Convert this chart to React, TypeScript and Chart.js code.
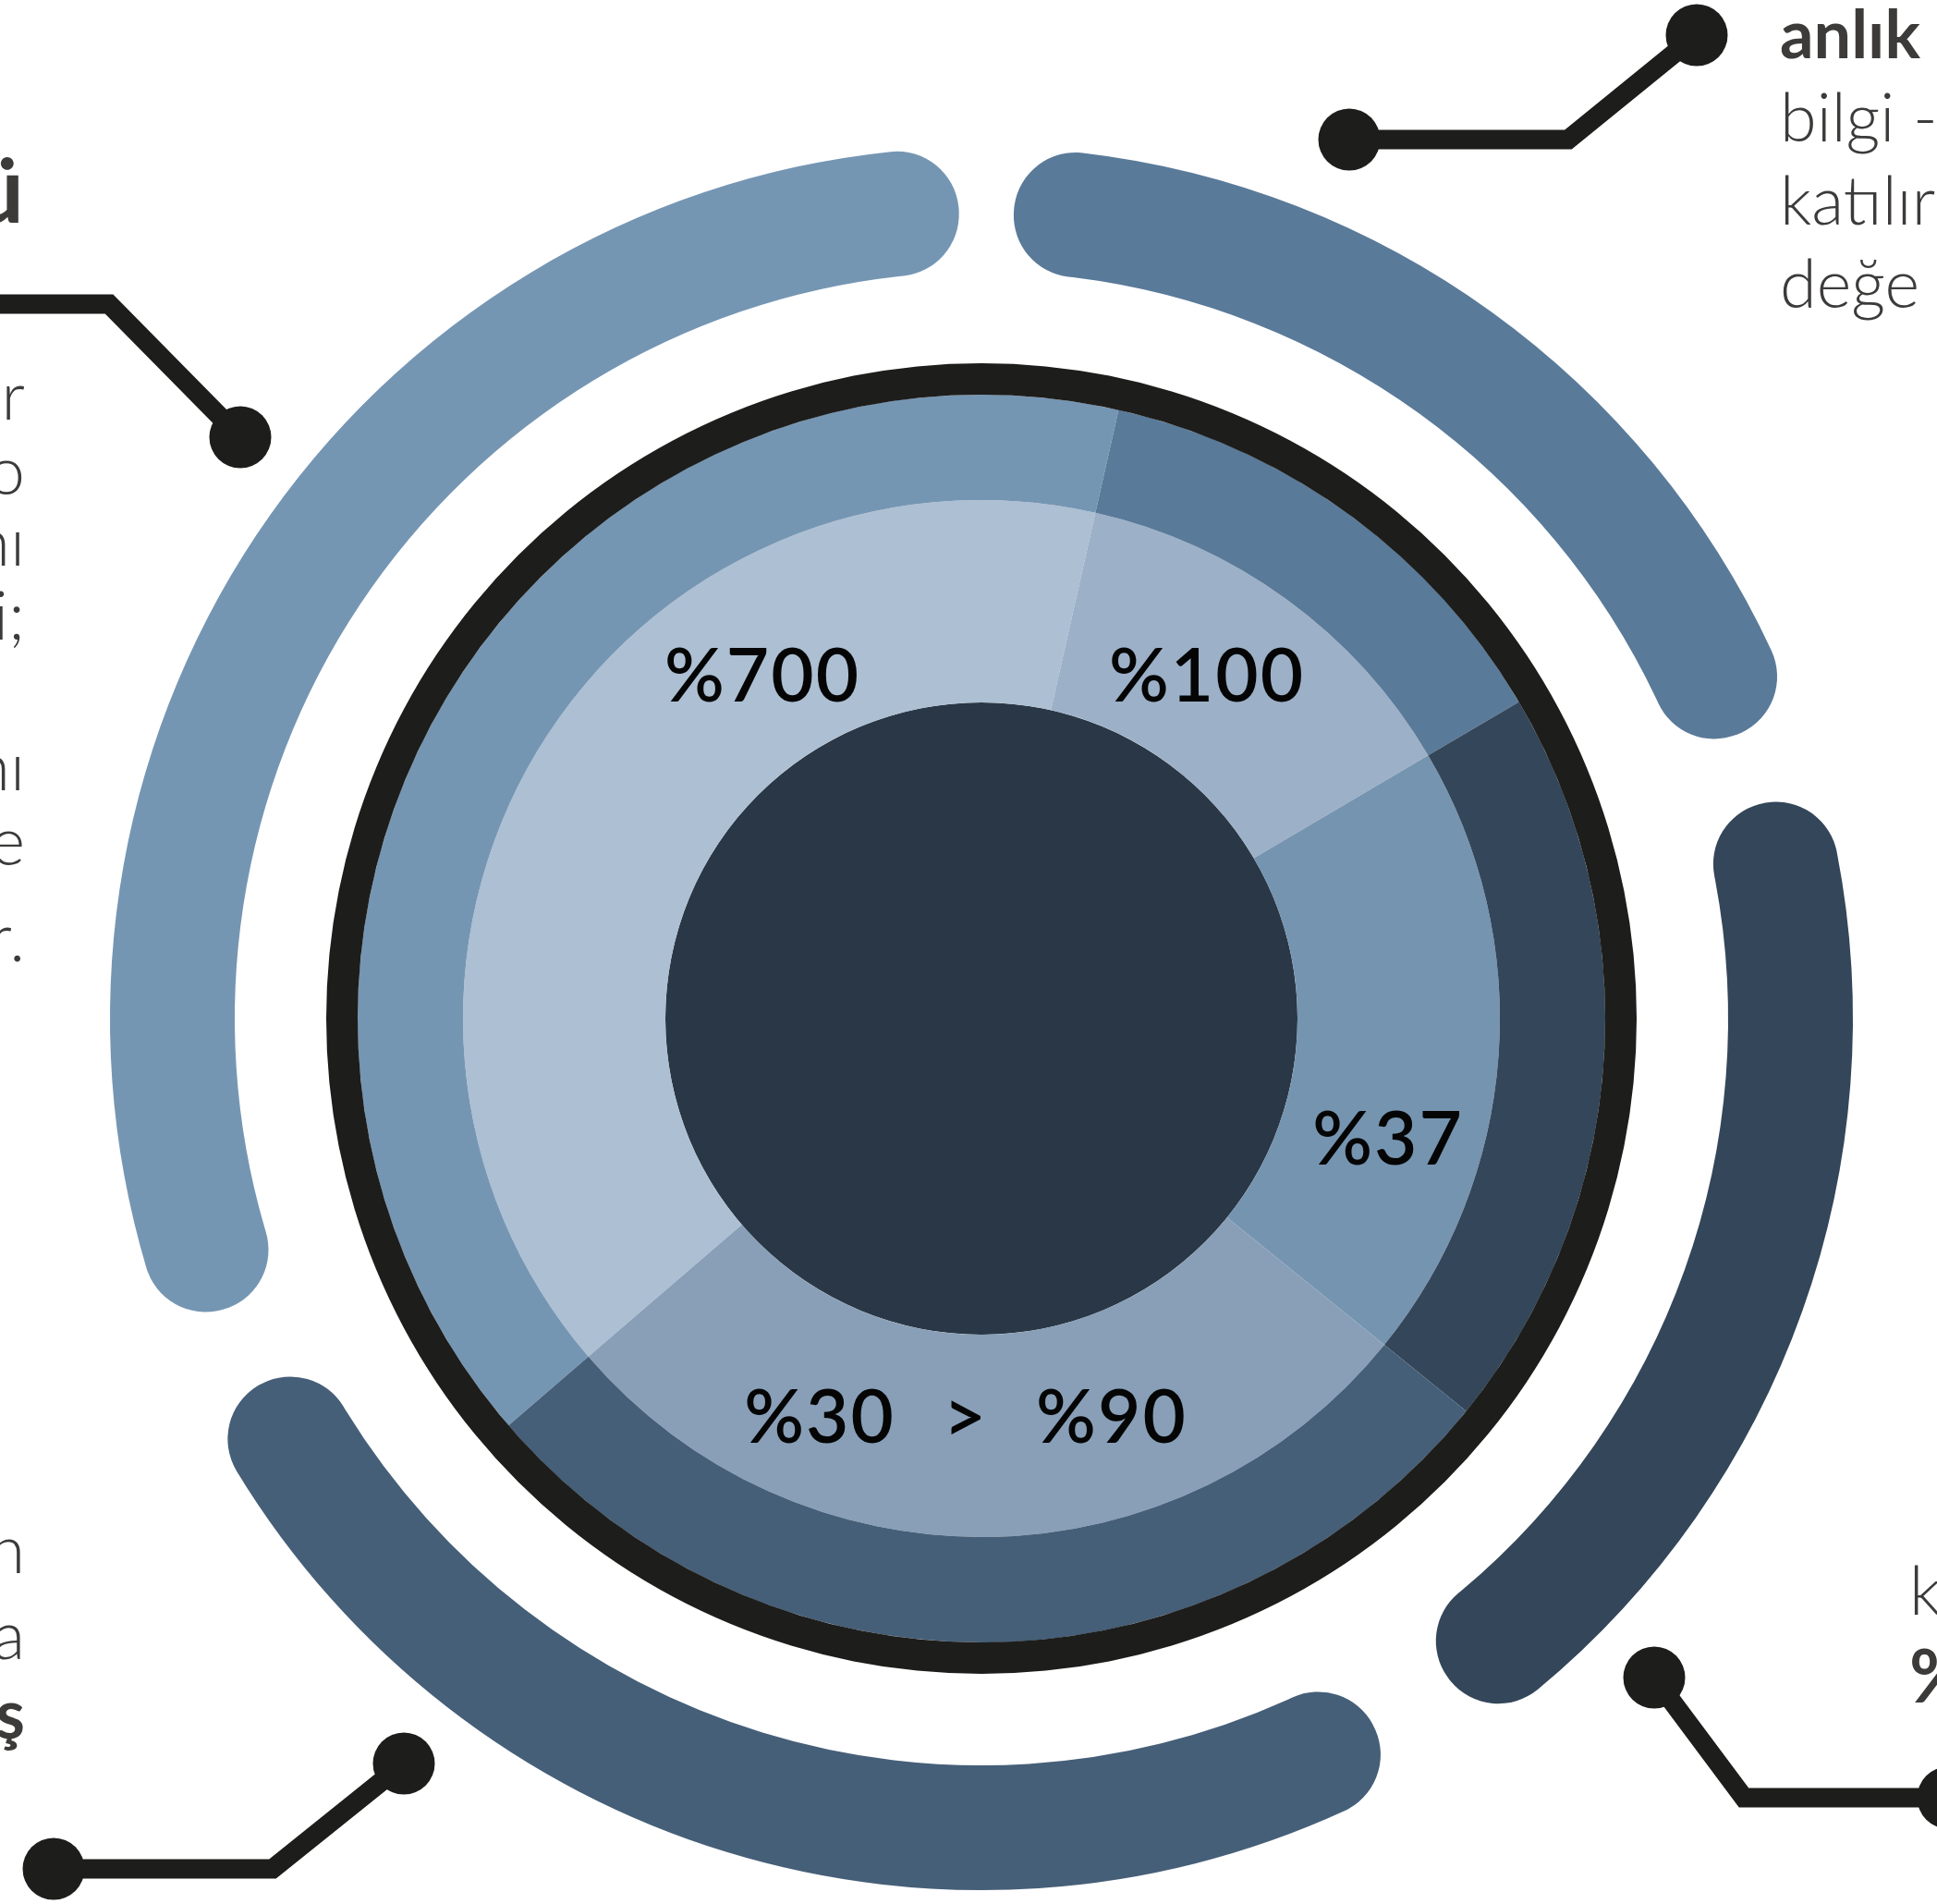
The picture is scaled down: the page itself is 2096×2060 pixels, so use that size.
import React, { useEffect, useRef } from "react";
import { Chart, registerables } from "chart.js";

Chart.register(...registerables);

// ---------- data ----------
const categories = ["%700", "%100", "%37", "%30 > %90"];
const sliceShares = [143.4, 46.8, 69.5, 100.3]; // angular share of each slice (degrees)
const sliceStart = 229.3;

const arcNames = ["sol", "boşluk", "sağ üst", "boşluk", "sağ", "boşluk", "alt", "boşluk"];
const arcSpans = [109.4, 3.9, 67.1, 5.2, 70.1, 6.3, 92.1, 5.9];
const arcStart = 249;

const topRightLines = ["anlık", "bilgi -", "katılır", "değe"];
const leftLines = ["ir", "o", "nı", "i;", "nı", "e", "r."];
const leftHeading = "ü";
const bottomLeftLines = ["n", "a", "ş"];
const bottomRightLines = ["k", "%"];

// ---------- styles ----------
const W = 2096;
const H = 2060;
const CX = 1062;
const CY = 1102;
const INK = "#1d1d1b";
const TEXT = "#3c3b3a";
const FONT = "Lato, 'Open Sans', sans-serif";

const outerRingColors = ["#7596b3", "#5a7a99", "#344659", "#465f78"];
const innerRingColors = ["#adbfd2", "#9cb0c7", "#7594b0", "#889fb7"];
const arcColors = ["#7596b3", "rgba(0,0,0,0)", "#5a7a99", "rgba(0,0,0,0)", "#344659", "rgba(0,0,0,0)", "#465f78", "rgba(0,0,0,0)"];
const coreColor = "#293746";

const calloutPaths = [
  { pts: [[1460, 151], [1697, 151], [1836, 38]], dots: [[1460, 151], [1836, 38]] },
  { pts: [[-20, 329], [118, 329], [260, 473]], dots: [[260, 473]] },
  { pts: [[58, 2022], [295, 2022], [437, 1908]], dots: [[58, 2022], [437, 1908]] },
  { pts: [[1790, 1815], [1887, 1945], [2110, 1945]], dots: [[1790, 1815], [2108, 1945]] },
];

const calloutPlugin = {
  id: "callouts",
  afterDraw(chart: any) {
    const ctx = chart.ctx;
    ctx.save();
    ctx.strokeStyle = INK;
    ctx.fillStyle = INK;
    ctx.lineWidth = 21;
    ctx.lineJoin = "miter";
    ctx.lineCap = "butt";
    for (const c of calloutPaths) {
      ctx.beginPath();
      c.pts.forEach((p, i) => (i === 0 ? ctx.moveTo(p[0], p[1]) : ctx.lineTo(p[0], p[1])));
      ctx.stroke();
      for (const d of c.dots) {
        ctx.beginPath();
        ctx.arc(d[0], d[1], 33.5, 0, Math.PI * 2);
        ctx.fill();
      }
    }
    ctx.restore();
  },
};

type TxtProps = {
  x: number;
  baseline: number;
  size: number;
  weight: number;
  text: string;
  align: "left" | "center" | "right";
  color?: string;
  wordSpacing?: number;
  letterSpacing?: number;
};

function Txt({ x, baseline, size, weight, text, align, color, wordSpacing, letterSpacing }: TxtProps) {
  const tx = align === "center" ? "translateX(-50%)" : align === "right" ? "translateX(-100%)" : "none";
  return (
    <div
      style={{
        position: "absolute",
        left: x,
        top: baseline - 0.887 * size,
        fontFamily: FONT,
        fontSize: size,
        fontWeight: weight,
        lineHeight: 1,
        color: color || TEXT,
        whiteSpace: "pre",
        transform: tx,
        wordSpacing: wordSpacing || 0,
        letterSpacing: letterSpacing || 0,
      }}
    >
      {text}
    </div>
  );
}

export default function App() {
  const ref = useRef<HTMLCanvasElement | null>(null);

  useEffect(() => {
    document.body.style.margin = "0";
    document.body.style.overflow = "hidden";
    const canvas = ref.current;
    if (!canvas) return;
    const chart = new Chart(canvas, {
      type: "doughnut",
      data: {
        labels: categories,
        datasets: [
          {
            label: "yaylar",
            data: arcSpans,
            backgroundColor: arcColors,
            rotation: arcStart,
            weight: 135,
            borderWidth: 0,
            borderRadius: 67,
          } as any,
          { label: "boşluk", data: [360], backgroundColor: "rgba(0,0,0,0)", weight: 99, borderWidth: 0 } as any,
          { label: "çerçeve", data: [360], backgroundColor: INK, weight: 34, borderWidth: 0 } as any,
          {
            label: "dış",
            data: sliceShares,
            backgroundColor: outerRingColors,
            rotation: sliceStart,
            weight: 114,
            borderWidth: 0,
          } as any,
          {
            label: "iç",
            data: sliceShares,
            backgroundColor: innerRingColors,
            rotation: sliceStart,
            weight: 219,
            borderWidth: 0,
          } as any,
          { label: "merkez", data: [360], backgroundColor: coreColor, weight: 342, borderWidth: 0 } as any,
        ],
      },
      options: {
        responsive: false,
        animation: false,
        events: [],
        cutout: 0,
        radius: 943,
        layout: { padding: { left: 2 * CX - W, top: 2 * CY - H, right: 0, bottom: 0 } },
        plugins: { legend: { display: false }, tooltip: { enabled: false } },
      } as any,
      plugins: [calloutPlugin],
    });
    return () => chart.destroy();
  }, []);

  const labelPos = [
    { x: 825, b: 759 },
    { x: 1306, b: 759 },
    { x: 1502, b: 1260 },
    { x: 1045, b: 1561 },
  ];
  const leftBaselines = [454, 535, 612, 692, 855, 936, 1040];

  return (
    <div style={{ position: "fixed", left: 0, top: 0, width: W, height: H, overflow: "hidden", background: "#fff" }}>
      <canvas ref={ref} width={W} height={H} style={{ position: "absolute", left: 0, top: 0, width: W, height: H }} />
      {categories.map((c, i) => (
        <Txt
          key={c}
          x={labelPos[i].x}
          baseline={labelPos[i].b}
          size={80}
          weight={600}
          text={c}
          align="center"
          color="#050505"
          wordSpacing={i === 3 ? 30 : 0}
          letterSpacing={2}
        />
      ))}
      {topRightLines.map((t, i) => (
        <Txt key={"tr" + i} x={1926} baseline={63 + i * 90} size={72} weight={i === 0 ? 700 : 300} text={t} align="left" />
      ))}
      <Txt x={26} baseline={241} size={100} weight={700} text={leftHeading} align="right" />
      {leftLines.map((t, i) => (
        <Txt key={"l" + i} x={27} baseline={leftBaselines[i]} size={72} weight={300} text={t} align="right" />
      ))}
      {bottomLeftLines.map((t, i) => (
        <Txt key={"bl" + i} x={27} baseline={[1702, 1795, 1880][i]} size={72} weight={i === 2 ? 700 : 300} text={t} align="right" />
      ))}
      {bottomRightLines.map((t, i) => (
        <Txt key={"br" + i} x={2066} baseline={[1747, 1842][i]} size={i === 0 ? 72 : 80} weight={i === 0 ? 300 : 700} text={t} align="left" />
      ))}
    </div>
  );
}
